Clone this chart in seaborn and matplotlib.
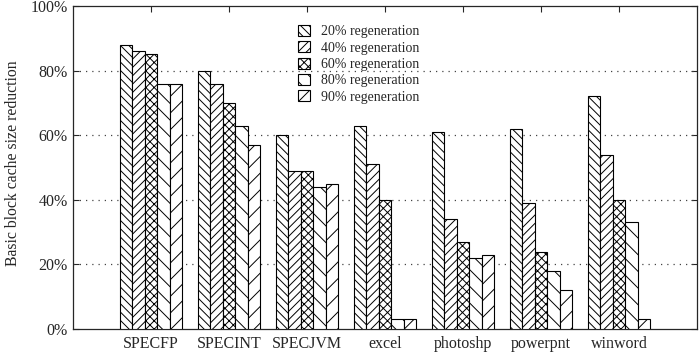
import pandas as pd
import numpy as np
import matplotlib
matplotlib.use('Agg')
import matplotlib.pyplot as plt
import seaborn as sns
from matplotlib.ticker import PercentFormatter

benchmarks = ['SPECFP', 'SPECINT', 'SPECJVM', 'excel', 'photoshp', 'powerpnt', 'winword']
levels = ['20% regeneration', '40% regeneration', '60% regeneration',
          '80% regeneration', '90% regeneration']

regen20 = [88, 80, 60, 63, 61, 62, 72]
regen40 = [86, 76, 49, 51, 34, 39, 54]
regen60 = [85, 70, 49, 40, 27, 24, 40]
regen80 = [76, 63, 44, 3, 22, 18, 33]
regen90 = [76, 57, 45, 3, 23, 12, 3]

hatches = ['\\\\\\\\', '////', 'xxxx', '\\\\', '//']

# long format for seaborn
rows = []
for lvl, vals in zip(levels, [regen20, regen40, regen60, regen80, regen90]):
    for b, v in zip(benchmarks, vals):
        rows.append({'bench': b, 'level': lvl, 'reduction': v})
df = pd.DataFrame(rows)

sns.set_style('ticks')
plt.rcParams['font.family'] = ['Liberation Serif', 'DejaVu Serif']
plt.rcParams['hatch.linewidth'] = 0.7
plt.rcParams['hatch.color'] = 'black'

fig, ax = plt.subplots(figsize=(7, 3.52), dpi=100)
fig.subplots_adjust(left=0.104, right=0.996, top=0.983, bottom=0.065)

sns.barplot(data=df, x='bench', y='reduction', hue='level', order=benchmarks,
            hue_order=levels, color='white', edgecolor='black', linewidth=0.8,
            saturation=1, width=0.8, errorbar=None, ax=ax, zorder=3)

for cont, h in zip(ax.containers, hatches):
    for bar in cont:
        bar.set_hatch(h)
        bar.set_facecolor('white')
        bar.set_edgecolor('black')

ax.set_xlim(-1, 7)
ax.set_ylim(0, 100)
ax.set_yticks([0, 20, 40, 60, 80, 100])
ax.yaxis.set_major_formatter(PercentFormatter(decimals=0))
for y in [20, 40, 60, 80]:
    ax.axhline(y, color='#444444', linestyle=(0, (1, 4)), linewidth=0.9, zorder=1)

ax.tick_params(direction='in', length=4, width=0.8, labelsize=11.5,
               top=True, right=True, bottom=True, left=True)
ax.tick_params(axis='x', pad=5)
for sp in ax.spines.values():
    sp.set_visible(True)
    sp.set_linewidth(0.9)

ax.set_xlabel('')
ax.set_ylabel('Basic block cache size reduction', fontsize=11.3)
ax.yaxis.set_label_coords(-0.083, 0.515)

handles, labels = ax.get_legend_handles_labels()
for hd, h in zip(handles, hatches):
    hd.set_hatch(h)
    hd.set_facecolor('white')
    hd.set_edgecolor('black')
ax.legend(handles, labels, loc='upper left', bbox_to_anchor=(0.345, 0.972),
          frameon=False, fontsize=10, handlelength=0.85, handleheight=0.85,
          labelspacing=0.22, handletextpad=0.8, borderpad=0.2)

plt.savefig('out.png')
